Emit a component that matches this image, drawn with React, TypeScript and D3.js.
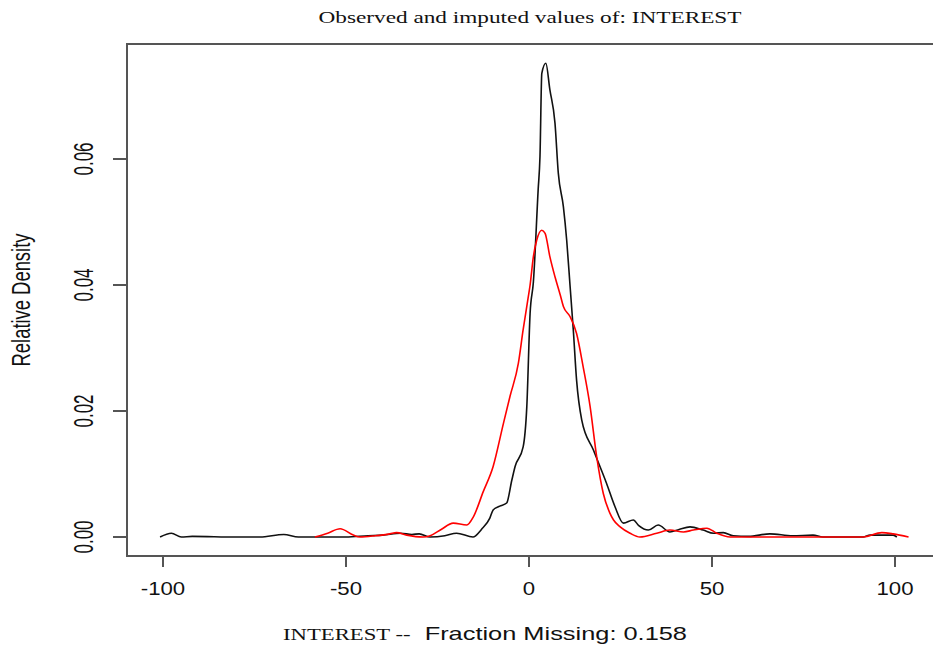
import React from 'react';
import * as d3 from 'd3';

// observed (black) density
const obsX = [-100.8, -97.7, -95, -92, -80, -73.5, -67, -63, -59, -50, -44, -40, -35, -32, -30, -27, -23, -19.8, -15.3, -13, -10.7, -9.8, -8, -6.1, -4.7, -3.8, -1.6, -0.6, 0.3, 1.2, 2.5, 3.0, 3.5, 4.6, 5.7, 7.1, 8.0, 9.4, 10.3, 11.2, 12.1, 13.0, 14.4, 17.6, 21.2, 23.5, 25.8, 28.5, 30, 32.6, 35.3, 38.5, 41, 44, 47.6, 50.4, 53.1, 55.8, 60, 65.8, 72, 77.6, 80.3, 91.3, 93.2, 99.5, 100.5];
const obsY = [0, 0.0006, 0, 0.0001, 0, 0, 0.0004, 0, 0, 0, 0.0002, 0.0003, 0.0006, 0.0004, 0.0005, 0, 0.0002, 0.0006, 0, 0.0012, 0.003, 0.0043, 0.0049, 0.0054, 0.009, 0.0112, 0.0143, 0.0207, 0.0355, 0.0405, 0.0551, 0.0604, 0.0736, 0.0752, 0.071, 0.0657, 0.0578, 0.0524, 0.0471, 0.04, 0.0329, 0.0249, 0.0186, 0.0138, 0.0085, 0.0048, 0.0022, 0.0027, 0.0018, 0.0011, 0.0019, 0.0008, 0.0012, 0.0016, 0.0011, 0.0006, 0.0007, 0.0002, 0.0001, 0.0005, 0.0002, 0.0003, 0, 0, 0.0003, 0.0003, 0];

// imputed (red) density
const impX = [-58.5, -55, -51.6, -48, -46.2, -42, -38, -36.2, -33.4, -29, -27, -24, -20.7, -17, -15.2, -12.5, -9.8, -7.0, -5.2, -2.9, -1.6, -0.2, 0.3, 1.2, 2.1, 3.5, 4.4, 5.7, 7.1, 8.5, 9.4, 11.2, 13.0, 14.8, 16.7, 18.5, 20.3, 22.1, 23.1, 24.9, 27.6, 30.3, 34.9, 38.5, 42.2, 44.9, 48.6, 51.3, 54.9, 91.3, 96.4, 99.5, 103.7];
const impY = [0, 0.0006, 0.0013, 0.0003, 0, 0.0002, 0.0005, 0.0007, 0.0003, 0, 0.0002, 0.0012, 0.0022, 0.0019, 0.0032, 0.0072, 0.0112, 0.018, 0.0223, 0.0276, 0.0329, 0.0381, 0.04, 0.0445, 0.0471, 0.0487, 0.0482, 0.0445, 0.0413, 0.0385, 0.0366, 0.035, 0.0323, 0.027, 0.0207, 0.0127, 0.0069, 0.0038, 0.0027, 0.0016, 0.0006, 0, 0.0006, 0.0011, 0.0008, 0.0011, 0.0014, 0.0006, 0, 0, 0.0007, 0.0005, 0];

const xTicks = [-100, -50, 0, 50, 100];
const yTicks = [0, 0.02, 0.04, 0.06];

const title = 'Observed and imputed values of: INTEREST';
const varName = 'INTEREST --';
const subLabel = '  Fraction Missing: 0.158';
const yLabel = 'Relative Density';

const SANS = 'Liberation Sans, Arial, sans-serif';
const SERIF = 'Liberation Serif, Times New Roman, serif';

export default function App() {
  const x = d3.scaleLinear().domain([-100, 100]).range([163, 895]);
  const y = d3.scaleLinear().domain([0, 0.06]).range([537, 159]);

  const line = d3.line<[number, number]>()
    .x(d => x(d[0]))
    .y(d => y(d[1]))
    .curve(d3.curveMonotoneX);

  const obs = obsX.map((v, i) => [v, obsY[i]] as [number, number]);
  const imp = impX.map((v, i) => [v, impY[i]] as [number, number]);

  // plot frame (right side runs off the picture)
  const left = 127, top = 44, bottom = 556, right = 1000;
  const axisColor = '#555';

  return (
    <svg width={933} height={648} style={{ position: 'absolute', left: 0, top: 0, background: '#fff' }}>
      <text x={530} y={23} fontFamily={SERIF} fontSize={16} textAnchor="middle"
        textLength={423} lengthAdjust="spacingAndGlyphs" fill="#111">{title}</text>

      <rect x={left} y={top} width={right - left} height={bottom - top}
        fill="none" stroke={axisColor} strokeWidth={2} />

      {xTicks.map(t => (
        <g key={'x' + t}>
          <line x1={x(t)} x2={x(t)} y1={bottom} y2={bottom + 11} stroke={axisColor} strokeWidth={2} />
          <text transform={`translate(${x(t)},595) scale(1.17,1)`} fontFamily={SANS} fontSize={19}
            textAnchor="middle" fill="#111">{t}</text>
        </g>
      ))}

      {yTicks.map(t => (
        <g key={'y' + t}>
          <line x1={left} x2={left - 14} y1={y(t)} y2={y(t)} stroke={axisColor} strokeWidth={2} />
          <text transform={`translate(93,${y(t)}) scale(1.6,1) rotate(-90)`} fontFamily={SANS} fontSize={17}
            textAnchor="middle" fill="#111">{t.toFixed(2)}</text>
        </g>
      ))}

      <text transform="translate(30,300) scale(1.4,1) rotate(-90)" fontFamily={SANS} fontSize={18.4}
        textAnchor="middle" fill="#111">{yLabel}</text>

      <text x={283} y={640} textLength={404} lengthAdjust="spacingAndGlyphs" fill="#111">
        <tspan fontFamily={SERIF} fontSize={17}>{varName}</tspan>
        <tspan fontFamily={SANS} fontSize={19} xmlSpace="preserve">{subLabel}</tspan>
      </text>

      <path d={line(obs) ?? ''} fill="none" stroke="#111" strokeWidth={1.6} />
      <path d={line(imp) ?? ''} fill="none" stroke="#ff0000" strokeWidth={1.6} />
    </svg>
  );
}
